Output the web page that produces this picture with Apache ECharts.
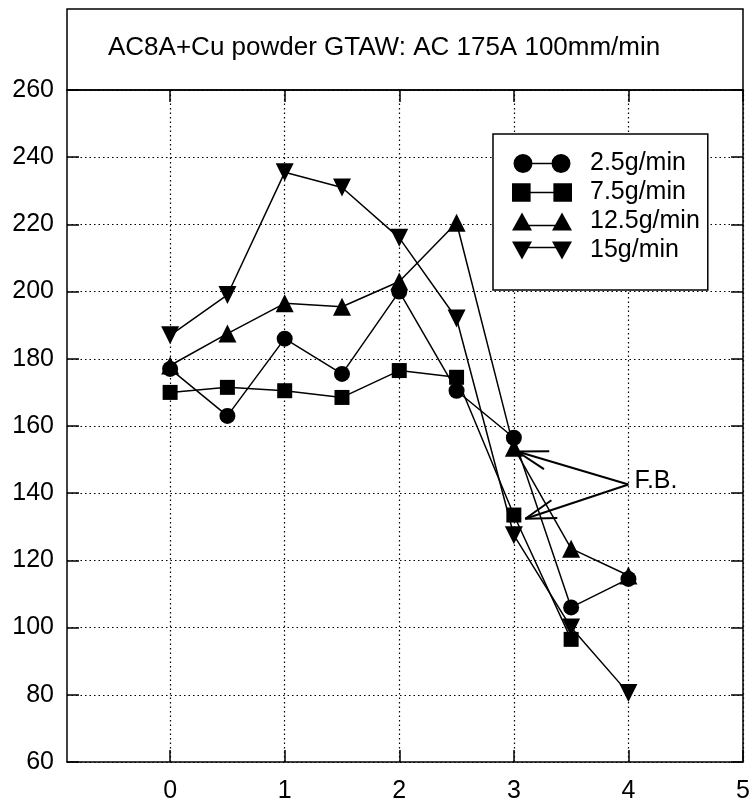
<!DOCTYPE html>
<html>
<head>
<meta charset="utf-8">
<script src="https://cdn.jsdelivr.net/npm/echarts@6/dist/echarts.min.js"></script>
<style>
html,body{margin:0;padding:0;background:#fff;}
#chart{width:754px;height:804px;}
</style>
</head>
<body>
<div id="chart"></div>
<script>
// ---- data ----
const titleText = 'AC8A+Cu powder GTAW: AC 175A 100mm/min';
const xValues = [0, 0.5, 1, 1.5, 2, 2.5, 3, 3.5, 4];
const seriesNames = ['2.5g/min', '7.5g/min', '12.5g/min', '15g/min'];
const s2_5 = [177, 163, 186, 175.5, 200, 170.5, 156.5, 106, 114.5];
const s7_5 = [170, 171.5, 170.5, 168.5, 176.5, 174.5, 133.5, 96.5];
const s12_5 = [178, 187.5, 196.5, 195.5, 203, 220.5, 153.5, 123.5, 115.5];
const s15 = [187, 199, 235.5, 231, 216, 192, 127.5, 100, 80.5];
const xTicks = [0, 1, 2, 3, 4, 5];
const yTicks = [60, 80, 100, 120, 140, 160, 180, 200, 220, 240, 260];
const fbLabel = 'F.B.';
const fbOrigin = [4.0, 142.6];
const fbTargets = [[3.03, 152.4], [3.1, 132.4]];

const FONT = "'Liberation Sans', Arial, Helvetica, sans-serif";
const pairs = (vals) => vals.map((v, i) => [xValues[i], v]);

const icons = {
  circle: 'path://M0,10A10,10,0,1,1,20,10A10,10,0,1,1,0,10ZM18,9.2L42,9.2L42,10.8L18,10.8ZM40,10A10,10,0,1,1,60,10A10,10,0,1,1,40,10Z',
  square: 'path://M1,1L19,1L19,19L1,19ZM19,9.2L41,9.2L41,10.8L19,10.8ZM41,1L59,1L59,19L41,19Z',
  up: 'path://M10,0L20,18L0,18ZM14,12.2L46,12.2L46,13.8L14,13.8ZM50,0L60,18L40,18Z',
  down: 'path://M0,1L20,1L10,19ZM14,6.2L46,6.2L46,7.8L14,7.8ZM40,1L60,1L50,19Z'
};

const lineBase = {
  type: 'line',
  xAxisIndex: 0, yAxisIndex: 0,
  lineStyle: { color: '#000', width: 1.5 },
  itemStyle: { color: '#000' },
  emphasis: { disabled: true },
  animation: false,
  z: 3
};

const tickStyle = { show: true, inside: true, length: 12, lineStyle: { color: '#000', width: 1.5 } };
const axisLineStyle = { show: true, onZero: false, lineStyle: { color: '#000', width: 1.5 } };
const gridDots = { show: true, lineStyle: { color: '#000', type: [1.5, 3], width: 1.2 } };

const chart = echarts.init(document.getElementById('chart'), null, { renderer: 'canvas' });
chart.setOption({
  animation: false,
  backgroundColor: '#fff',
  textStyle: { fontFamily: FONT },
  title: {
    text: titleText,
    left: 108, top: 35, padding: 0,
    textStyle: { fontFamily: FONT, fontSize: 26, fontWeight: 'normal', color: '#000' }
  },
  graphic: [{
    type: 'rect',
    shape: { x: 67, y: 9, width: 676, height: 81 },
    style: { fill: 'none', stroke: '#000', lineWidth: 1.5 },
    silent: true, z: 0
  }],
  grid: { left: 67, right: 11, top: 90, bottom: 41, containLabel: false },
  legend: {
    orient: 'vertical',
    left: 493, top: 134,
    backgroundColor: '#fff',
    borderColor: '#000', borderWidth: 1.5, borderRadius: 0,
    padding: [17, 8, 27, 19],
    itemGap: 4,
    itemWidth: 60, itemHeight: 19,
    selectedMode: false,
    textStyle: { fontFamily: FONT, fontSize: 25, color: '#000', lineHeight: 25, padding: [0, 0, 0, 13] },
    data: [
      { name: seriesNames[0], icon: icons.circle },
      { name: seriesNames[1], icon: icons.square },
      { name: seriesNames[2], icon: icons.up },
      { name: seriesNames[3], icon: icons.down }
    ],
    z: 10
  },
  xAxis: [{
    type: 'value', position: 'bottom', min: -0.9, max: 5,
    axisLine: axisLineStyle,
    axisTick: Object.assign({ customValues: xTicks }, tickStyle),
    axisLabel: { customValues: xTicks, margin: 17, fontSize: 25, color: '#000', fontFamily: FONT },
    splitLine: gridDots
  }, {
    type: 'value', position: 'top', min: -0.9, max: 5,
    axisLine: axisLineStyle,
    axisTick: Object.assign({ customValues: xTicks }, tickStyle),
    axisLabel: { show: false },
    splitLine: { show: false }
  }],
  yAxis: [{
    type: 'value', position: 'left', min: 60, max: 260, interval: 20,
    axisLine: axisLineStyle,
    axisTick: tickStyle,
    axisLabel: { margin: 13, fontSize: 25, color: '#000', fontFamily: FONT },
    splitLine: gridDots
  }, {
    type: 'value', position: 'right', min: 60, max: 260, interval: 20,
    axisLine: axisLineStyle,
    axisTick: tickStyle,
    axisLabel: { show: false },
    splitLine: { show: false }
  }],
  series: [
    Object.assign({}, lineBase, { name: seriesNames[0], data: pairs(s2_5), symbol: 'circle', symbolSize: 16 }),
    Object.assign({}, lineBase, { name: seriesNames[1], data: pairs(s7_5), symbol: 'rect', symbolSize: 15 }),
    Object.assign({}, lineBase, { name: seriesNames[2], data: pairs(s12_5), symbol: 'triangle', symbolSize: 18 }),
    Object.assign({}, lineBase, { name: seriesNames[3], data: pairs(s15), symbol: 'triangle', symbolRotate: 180, symbolSize: 18 }),
    {
      type: 'custom',
      name: 'annotation',
      xAxisIndex: 0, yAxisIndex: 0,
      silent: true,
      animation: false,
      z: 4,
      data: fbTargets.map(t => [fbOrigin[0], fbOrigin[1], t[0], t[1]]),
      renderItem: function (params, api) {
        const o = api.coord([api.value(0), api.value(1)]);
        const t = api.coord([api.value(2), api.value(3)]);
        const ang = Math.atan2(o[1] - t[1], o[0] - t[0]);
        const L = 32, half = 17 * Math.PI / 180;
        const h1 = [t[0] + L * Math.cos(ang - half), t[1] + L * Math.sin(ang - half)];
        const h2 = [t[0] + L * Math.cos(ang + half), t[1] + L * Math.sin(ang + half)];
        const st = { stroke: '#000', lineWidth: 2, fill: null };
        const children = [
          { type: 'line', shape: { x1: o[0], y1: o[1], x2: t[0], y2: t[1] }, style: st },
          { type: 'line', shape: { x1: t[0], y1: t[1], x2: h1[0], y2: h1[1] }, style: st },
          { type: 'line', shape: { x1: t[0], y1: t[1], x2: h2[0], y2: h2[1] }, style: st }
        ];
        if (params.dataIndex === 0) {
          children.push({
            type: 'text',
            x: o[0] + 6, y: o[1] - 3,
            style: { text: fbLabel, fill: '#000', font: '25px ' + FONT, textAlign: 'left', textVerticalAlign: 'middle' }
          });
        }
        return { type: 'group', children: children };
      }
    }
  ]
});
</script>
</body>
</html>
